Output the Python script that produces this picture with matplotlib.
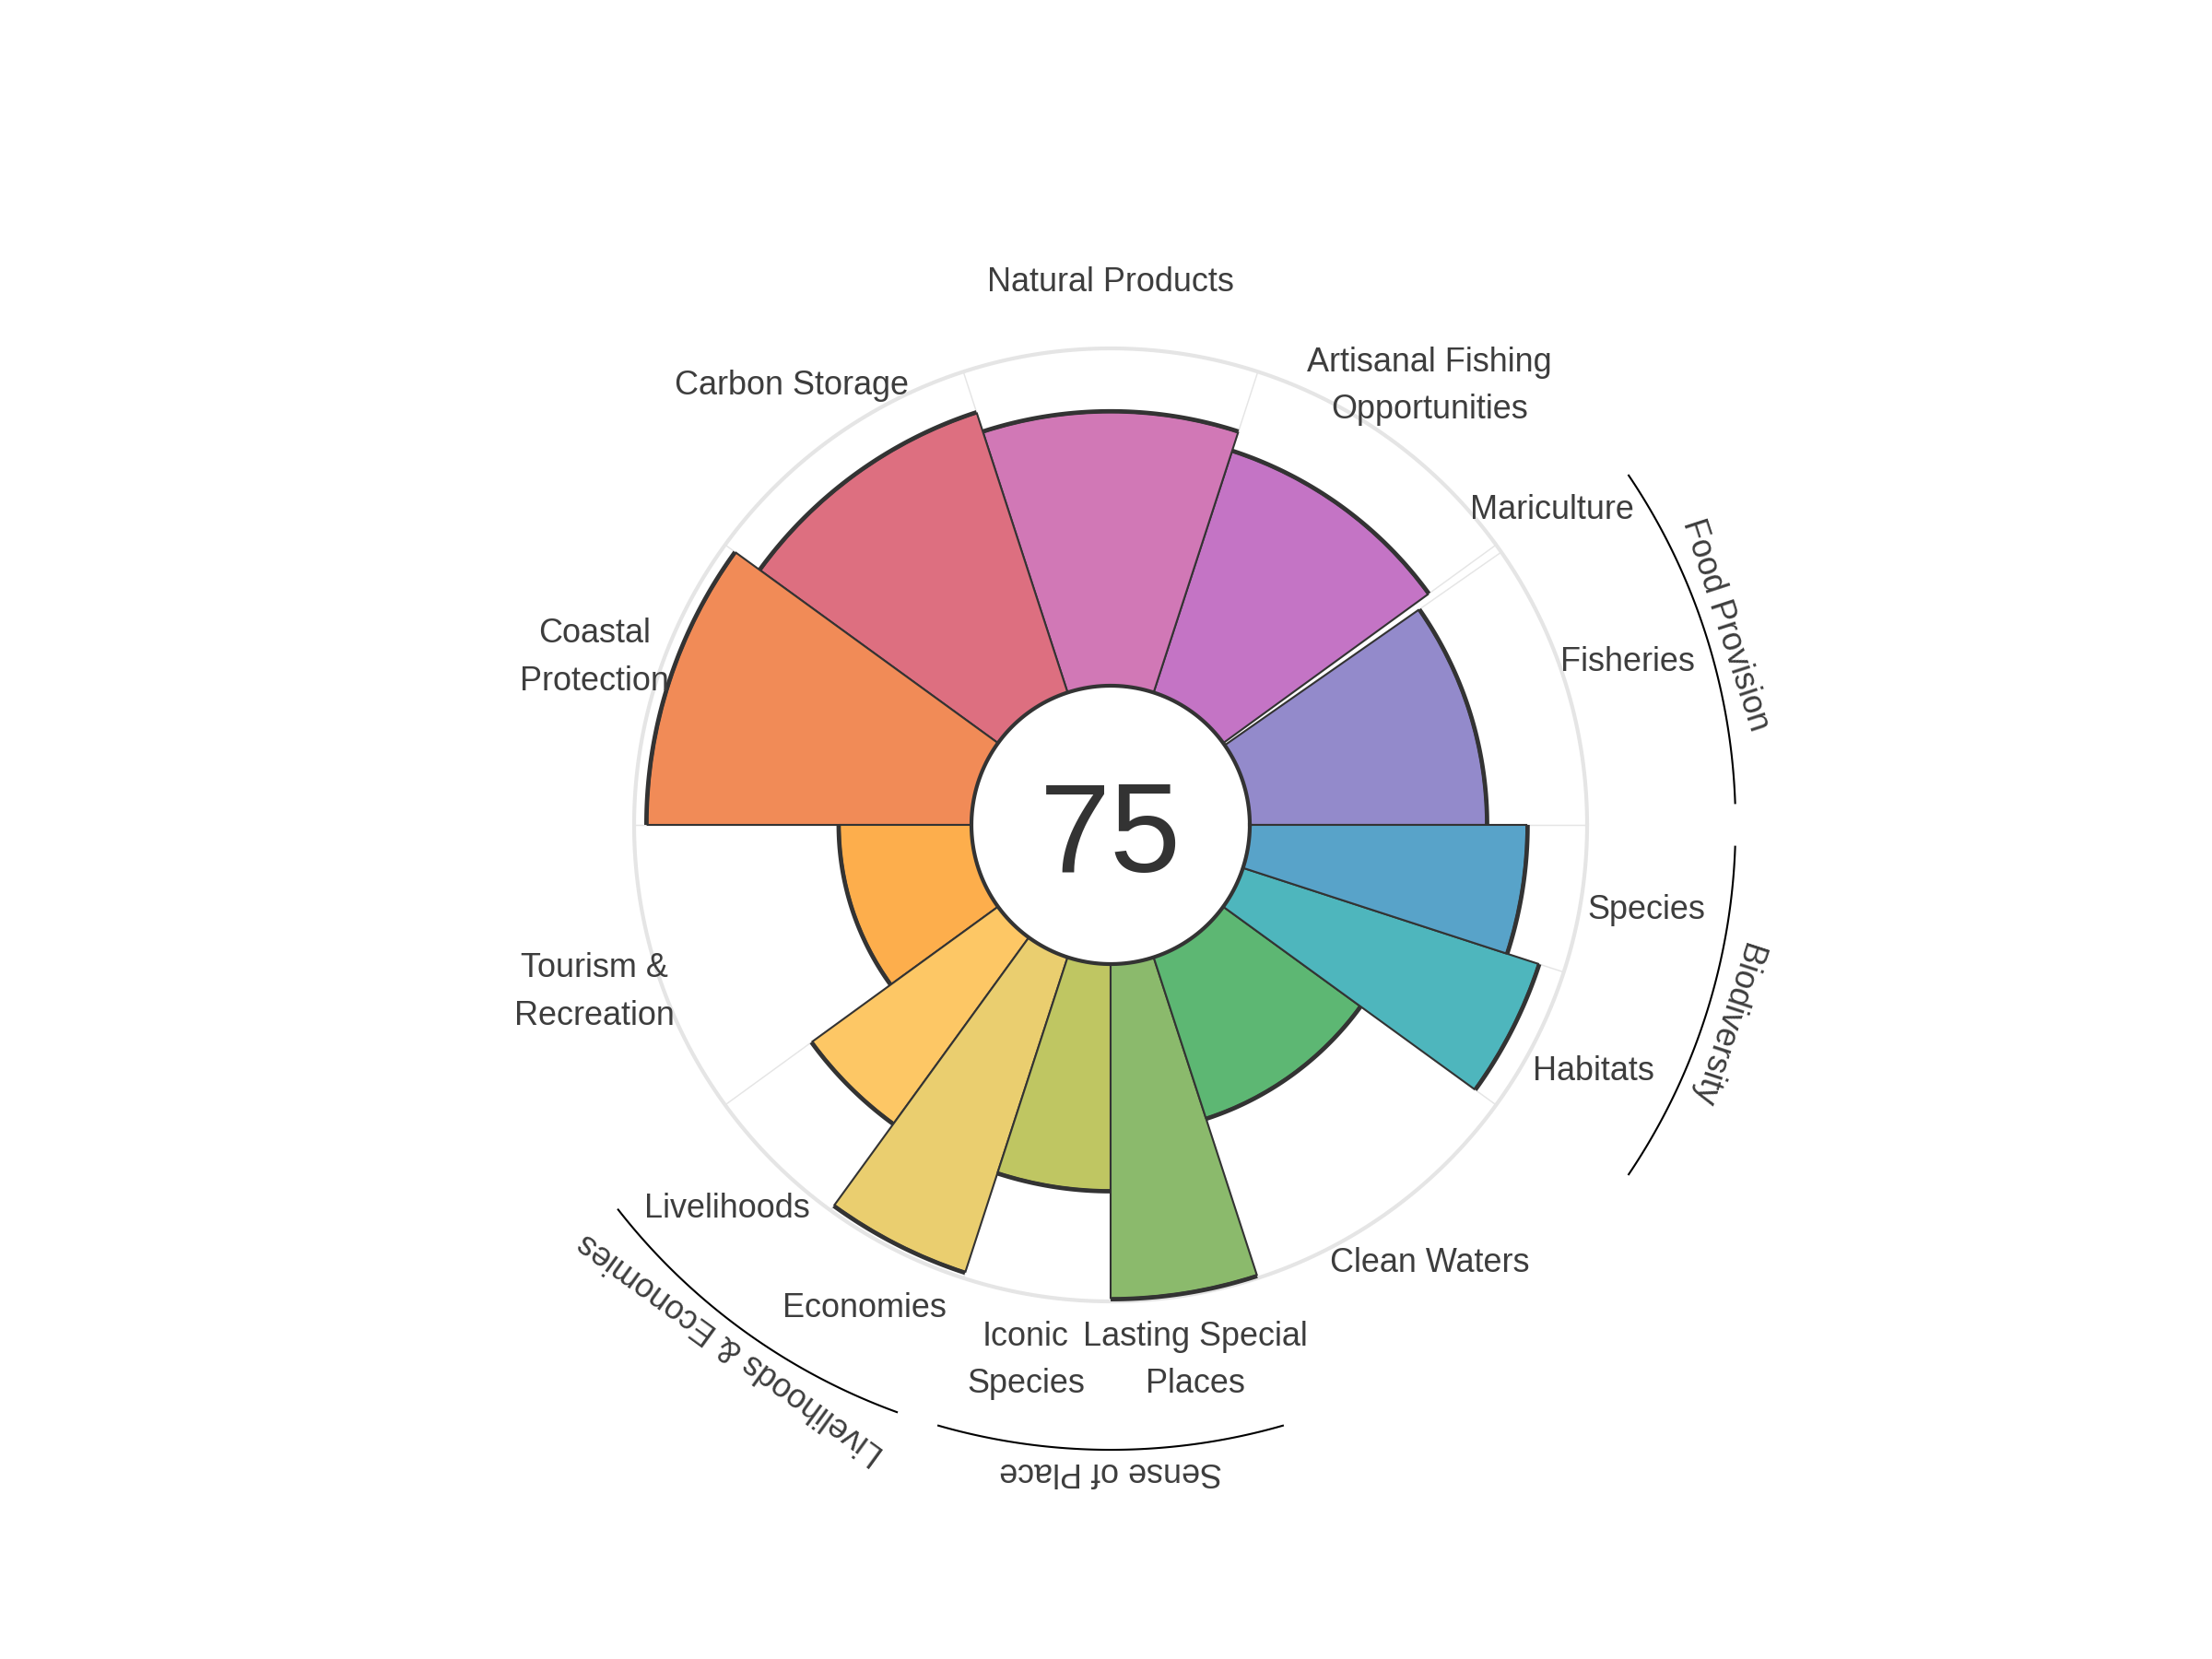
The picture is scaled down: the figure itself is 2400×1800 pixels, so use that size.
import numpy as np
import matplotlib.pyplot as plt

plt.rcParams['font.family'] = ['Liberation Sans', 'DejaVu Sans']

# goals, counter-clockwise from 3 o'clock
goals = ['Fisheries', 'Mariculture', 'Artisanal Fishing\nOpportunities', 'Natural Products',
         'Carbon Storage', 'Coastal\nProtection', 'Tourism &\nRecreation', 'Livelihoods',
         'Economies', 'Iconic\nSpecies', 'Lasting Special\nPlaces', 'Clean Waters',
         'Habitats', 'Species']
weights = [0.97, 0.03, 1, 1, 1, 1, 1, 0.5, 0.5, 0.5, 0.5, 1, 0.5, 0.5]
scores = [70, 0, 75, 81, 87, 96, 39, 68, 98, 67, 99, 50, 92, 82]
colors = ['#938ACB', '#AD7EC8', '#C474C5', '#D178B6', '#DD6F80', '#F18B57', '#FDAE4C',
          '#FDC765', '#EACE6F', '#BFC662', '#8BBA6C', '#5DB773', '#4EB6BD', '#58A3C9']
overall = 75

groups = ['Food Provision', 'Livelihoods & Economies', 'Sense of Place', 'Biodiversity']
group_members = [(0, 1), (7, 8), (9, 10), (12, 13)]

# angles
w = np.array(weights) / sum(weights) * 2 * np.pi
edges = np.concatenate([[0], np.cumsum(w)])
centers = edges[:-1] + w / 2

fig = plt.figure(figsize=(8, 6), dpi=300)
ax = fig.add_axes([0.28667, 0.21556, 0.43083, 0.57444], projection='polar')
hole = 41.26
ax.set_ylim(0, 100)
ax.set_rorigin(-hole)
ax.set_theta_zero_location('E')
ax.set_axis_off()

grid_c = '#E5E5E5'
t = np.linspace(0, 2 * np.pi, 400)
ax.plot(t, np.full_like(t, 100), color=grid_c, lw=1.0, zorder=0, clip_on=False)
for e in edges[:-1]:
    ax.plot([e, e], [0, 100], color=grid_c, lw=0.35, zorder=0)

ax.bar(centers, scores, width=w, bottom=0, color=colors, edgecolor='#333333',
       linewidth=0.5, zorder=2)

for i, s in enumerate(scores):
    if s <= 0:
        continue
    tt = np.linspace(edges[i], edges[i + 1], 60)
    ax.plot(tt, np.full_like(tt, s + 0.4), color='#333333', lw=1.05, zorder=3,
            solid_capstyle='butt', clip_on=False)

# inner circle
ax.plot(t, np.zeros_like(t), color='#333333', lw=1.0, zorder=4, clip_on=False)

# goal labels
for c, g in zip(centers, goals):
    ax.text(c, 119.5, g, ha='center', va='center', fontsize=8.64, color='#3d3d3d',
            linespacing=1.62)

# group arcs and labels
pad = np.deg2rad(2)
for g, (a, b) in zip(groups, group_members):
    t0, t1 = edges[a] + pad, edges[b + 1] - pad
    tt = np.linspace(t0, t1, 100)
    ax.plot(tt, np.full_like(tt, 144), color='black', lw=0.5, clip_on=False)
    mid = (edges[a] + edges[b + 1]) / 2
    ax.text(mid, 150.5, g, ha='center', va='center', fontsize=8.64, color='#3d3d3d',
            rotation=np.rad2deg(mid) - 90, rotation_mode='anchor')

fig.text(1205 / 2400, 1 - 946 / 1800, str(overall), ha='center', va='baseline',
         fontsize=33.2, color='#333333')

fig.savefig('out.png', dpi=300, facecolor='white')
